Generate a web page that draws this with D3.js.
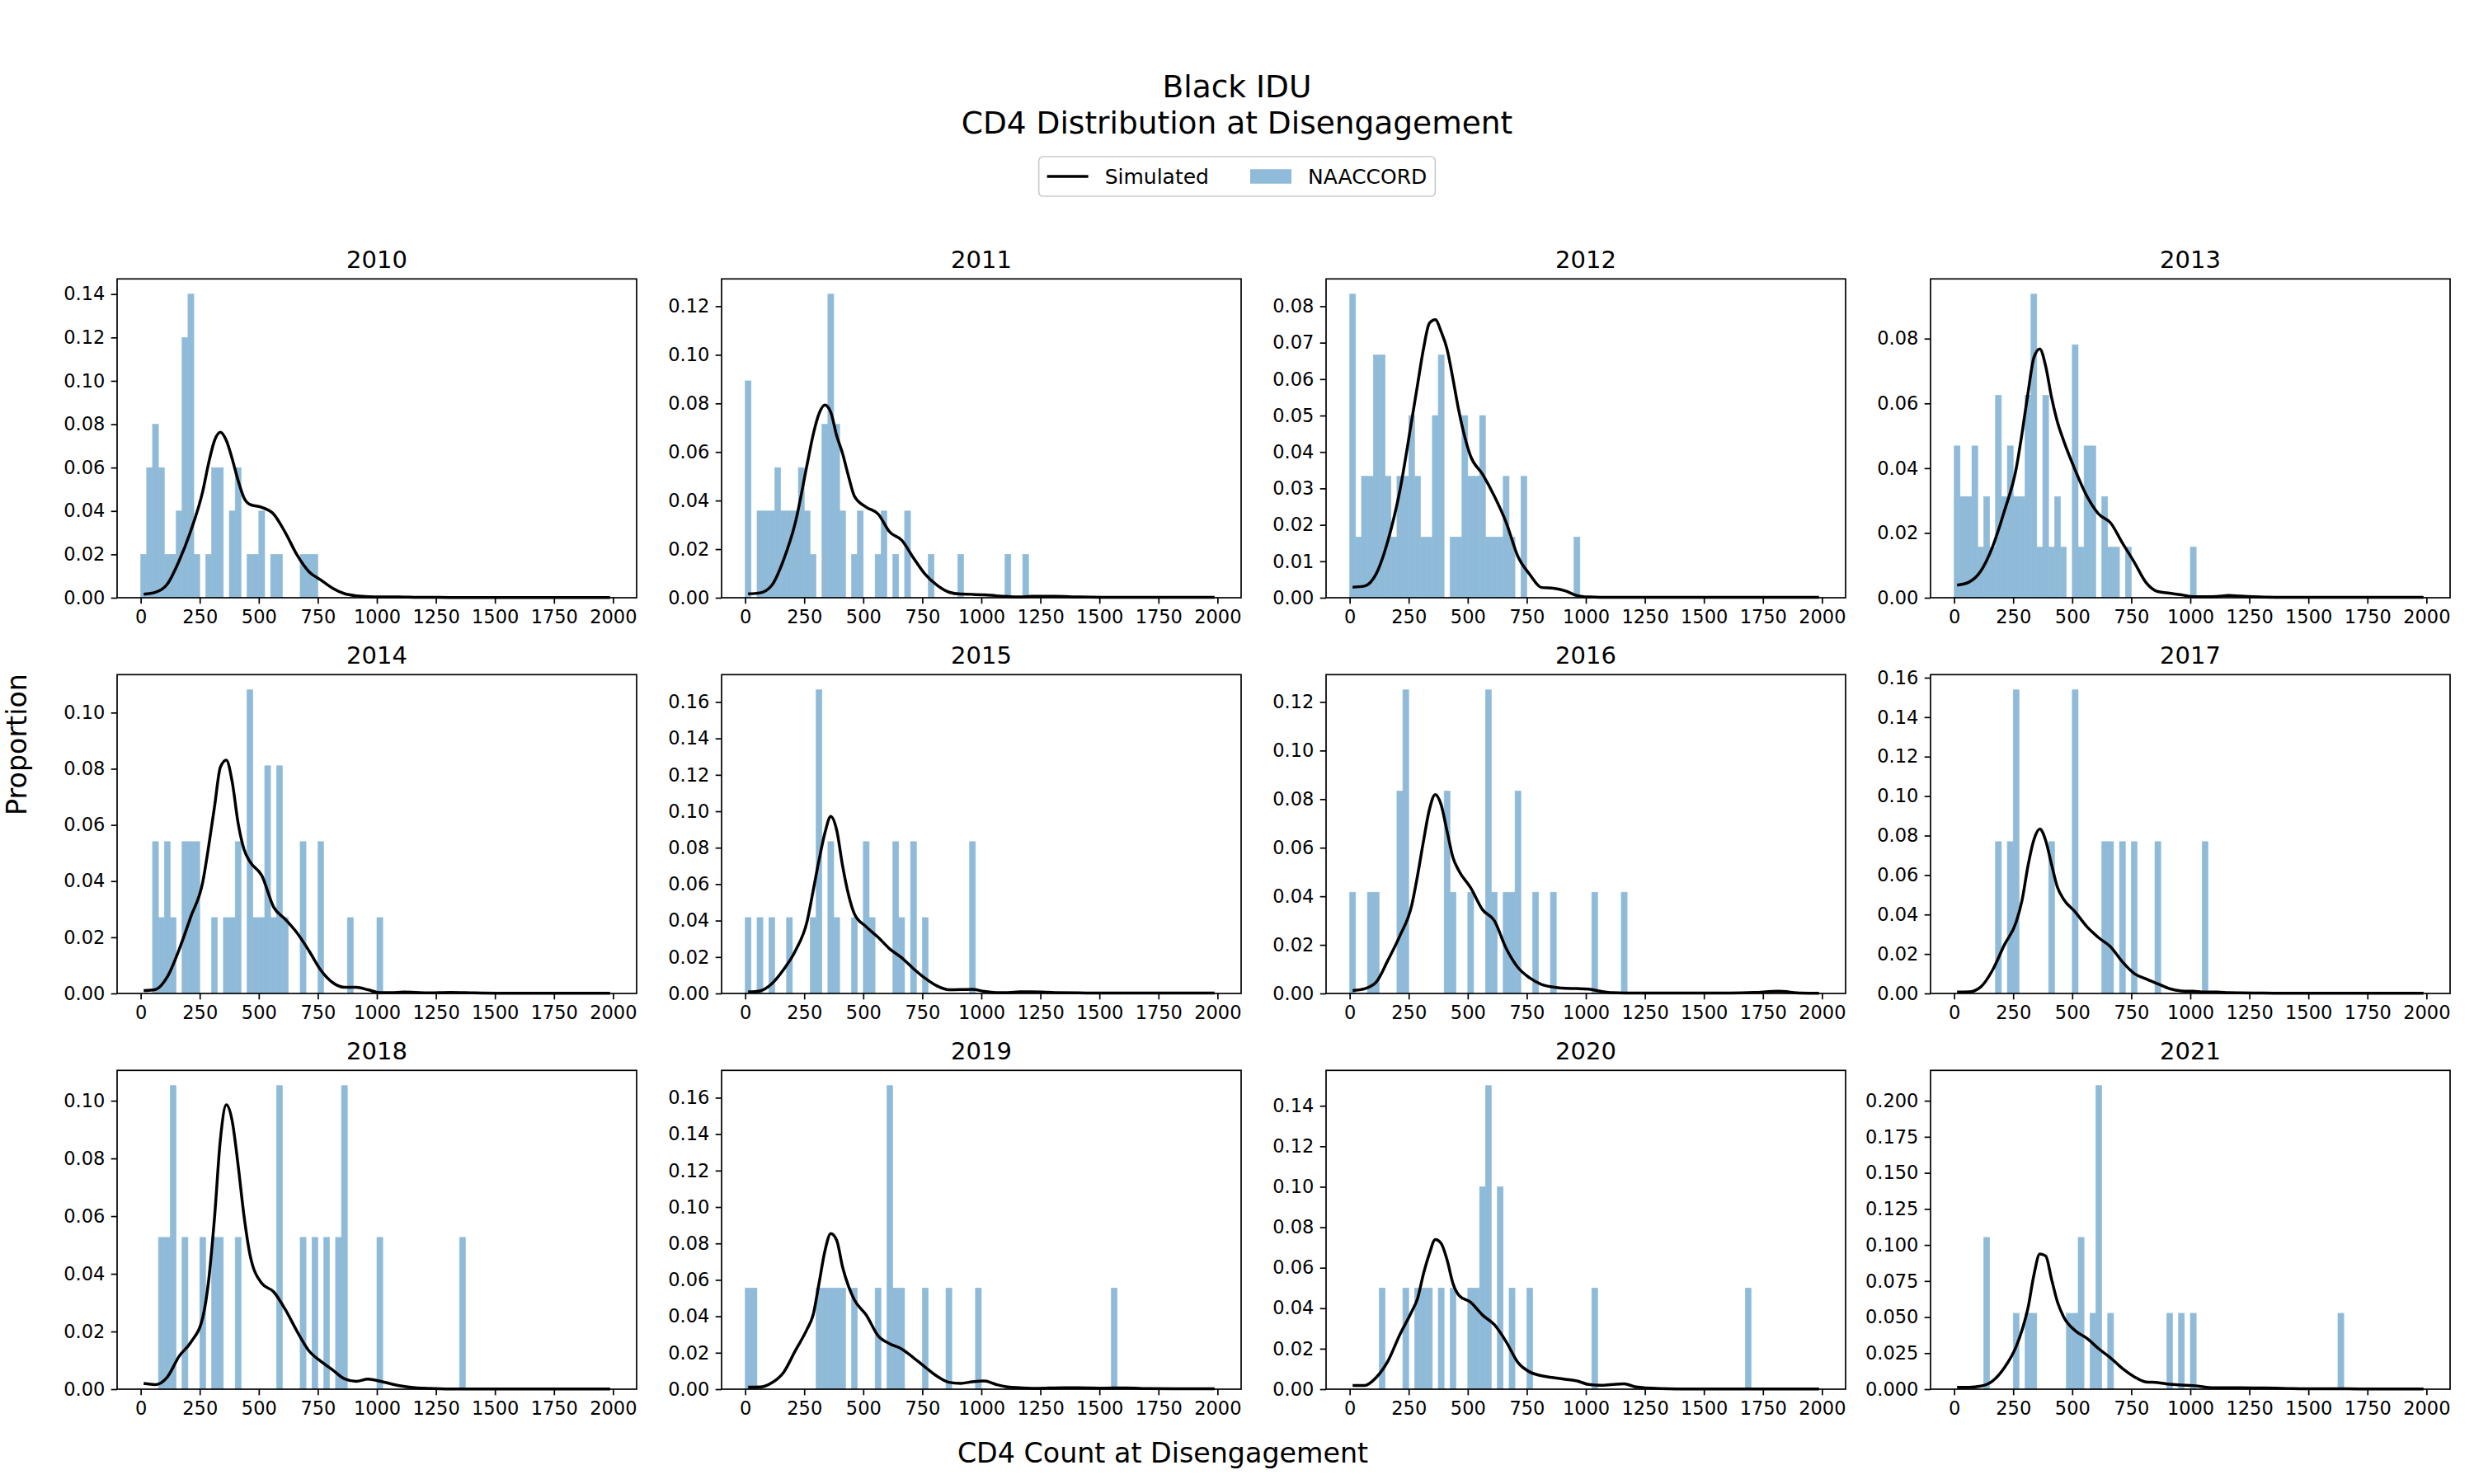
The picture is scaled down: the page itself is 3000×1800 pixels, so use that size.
<!DOCTYPE html>
<html>
<head>
<meta charset="utf-8">
<script src="https://cdnjs.cloudflare.com/ajax/libs/d3/7.8.5/d3.min.js"></script>
<style>
  body { margin: 0; background: #fff; }
  svg { font-family: "DejaVu Sans", sans-serif; }
</style>
</head>
<body>
<svg id="chart" width="3000" height="1800"></svg>
<script>
// NAACCORD histogram: [bin left edge, count], bins are 25 wide
var years = [2010, 2011, 2012, 2013, 2014, 2015, 2016, 2017, 2018, 2019, 2020, 2021];
var sampleSizes = [50, 56, 60, 64, 37, 24, 24, 13, 19, 18, 20, 19];
var binWidth = 25;

var naaccord2010 = [[0,1],[25,3],[50,4],[75,3],[100,1],[125,1],[150,2],[175,6],[200,7],[225,1],[275,1],[300,3],[325,3],[375,2],[400,3],[450,1],[475,1],[500,2],[550,1],[575,1],[675,1],[700,1],[725,1]];
var naaccord2011 = [[0,5],[50,2],[75,2],[100,2],[125,3],[150,2],[175,2],[200,2],[225,3],[250,2],[275,1],[325,4],[350,7],[375,4],[400,2],[450,1],[475,2],[550,1],[575,2],[625,1],[675,2],[775,1],[900,1],[1100,1],[1175,1]];
var naaccord2012 = [[0,5],[25,1],[50,2],[75,2],[100,4],[125,4],[150,2],[175,1],[200,2],[225,2],[250,3],[275,2],[300,1],[325,1],[350,3],[375,4],[425,1],[450,1],[475,3],[500,2],[525,2],[550,3],[575,1],[600,1],[625,1],[650,2],[675,1],[725,2],[950,1]];
var naaccord2013 = [[0,3],[25,2],[50,2],[75,3],[100,1],[125,2],[150,1],[175,4],[200,2],[225,3],[250,2],[275,2],[300,4],[325,6],[350,1],[375,4],[400,1],[425,2],[450,1],[500,5],[525,1],[550,3],[575,3],[625,2],[650,1],[675,1],[725,1],[1000,1]];
var naaccord2014 = [[50,2],[75,1],[100,2],[125,1],[175,2],[200,2],[225,2],[300,1],[350,1],[375,1],[400,2],[450,4],[475,1],[500,1],[525,3],[550,1],[575,3],[600,1],[675,2],[750,2],[875,1],[1000,1]];
var naaccord2015 = [[0,1],[50,1],[100,1],[175,1],[275,1],[300,4],[350,2],[375,1],[450,1],[500,2],[525,1],[625,2],[650,1],[700,2],[750,1],[950,2]];
var naaccord2016 = [[0,1],[75,1],[100,1],[200,2],[225,3],[400,2],[425,1],[500,1],[575,3],[600,1],[650,1],[675,1],[700,2],[775,1],[850,1],[1025,1],[1150,1]];
var naaccord2017 = [[175,1],[225,1],[250,2],[400,1],[500,2],[625,1],[650,1],[700,1],[750,1],[850,1],[1050,1]];
var naaccord2018 = [[75,1],[100,1],[125,2],[175,1],[250,1],[300,1],[325,1],[400,1],[575,2],[675,1],[725,1],[775,1],[825,1],[850,2],[1000,1],[1350,1]];
var naaccord2019 = [[0,1],[25,1],[300,1],[325,1],[350,1],[375,1],[400,1],[450,1],[550,1],[600,3],[625,1],[650,1],[750,1],[850,1],[975,1],[1550,1]];
var naaccord2020 = [[125,1],[225,1],[275,1],[300,1],[325,1],[375,1],[425,1],[500,1],[525,1],[550,2],[575,3],[625,2],[675,1],[750,1],[1025,1],[1675,1]];
var naaccord2021 = [[125,2],[250,1],[300,1],[325,1],[475,1],[500,1],[525,2],[575,1],[600,4],[650,1],[900,1],[950,1],[1000,1],[1625,1]];

// Simulated curve, read at these CD4 values
var simGrid = [12.5, 62.5, 112.5, 162.5, 212.5, 262.5, 287.5, 312.5, 337.5, 362.5, 387.5, 412.5, 437.5, 462.5,
               512.5, 562.5, 612.5, 662.5, 712.5, 762.5, 812.5, 862.5, 912.5, 962.5, 1012.5, 1062.5, 1112.5, 1162.5, 1212.5,
               1312.5, 1412.5, 1512.5, 1612.5, 1712.5, 1812.5, 1912.5, 1987.5];

var sim2010 = [0.0016, 0.0025, 0.0063, 0.017, 0.031, 0.049, 0.062, 0.0725, 0.0763, 0.0725, 0.064, 0.054, 0.046, 0.043,
               0.0417, 0.0386, 0.030, 0.0196, 0.012, 0.0082, 0.0044, 0.0019, 0.0009, 0.0005, 0.0004, 0.0004, 0.0003, 0.0002, 0.0002,
               0.0001, 0.0001, 0.0001, 0.0001, 0.0001, 0.0001, 0.0001, 0.0001];
var sim2011 = [0.0016, 0.002, 0.0051, 0.0156, 0.031, 0.055, 0.067, 0.0757, 0.0793, 0.0763, 0.0667, 0.0593, 0.050, 0.0418,
               0.0373, 0.0345, 0.027, 0.0237, 0.0164, 0.0096, 0.0051, 0.0023, 0.0015, 0.0014, 0.0012, 0.0008, 0.0005, 0.0003, 0.0006,
               0.0006, 0.0003, 0.0002, 0.0002, 0.0002, 0.0002, 0.0002, 0.0002];
var sim2012 = [0.0029, 0.0032, 0.0066, 0.0158, 0.0294, 0.0486, 0.0585, 0.0683, 0.0753, 0.0763, 0.073, 0.0682, 0.060, 0.0512,
               0.0388, 0.0339, 0.0279, 0.0207, 0.0113, 0.0064, 0.0028, 0.0026, 0.0019, 0.0006, 0.0002, 0.0001, 0.0001, 0.0001, 0.0001,
               0.0001, 0.0001, 0.0001, 0.0001, 0.0001, 0.0001, 0.0001, 0.0001];
var sim2013 = [0.0039, 0.0048, 0.0082, 0.0157, 0.0267, 0.0398, 0.0508, 0.0631, 0.0741, 0.0768, 0.0715, 0.0618, 0.0542, 0.0487,
               0.0394, 0.0313, 0.0258, 0.0231, 0.0169, 0.011, 0.0047, 0.0019, 0.0014, 0.0009, 0.0003, 0.0003, 0.0004, 0.0007, 0.0005,
               0.0002, 0.0001, 0.0001, 0.0001, 0.0001, 0.0001, 0.0001, 0.0001];
var sim2014 = [0.001, 0.0014, 0.0059, 0.0156, 0.0274, 0.0396, 0.0523, 0.0665, 0.0806, 0.0831, 0.0753, 0.0606, 0.0513, 0.0469,
               0.042, 0.0308, 0.0264, 0.0215, 0.0152, 0.0083, 0.0039, 0.0022, 0.0022, 0.0013, 0.0003, 0.0003, 0.0005, 0.0004, 0.0002,
               0.0004, 0.0002, 0.0001, 0.0001, 0.0001, 0.0001, 0.0001, 0.0001];
var sim2015 = [0.0009, 0.0014, 0.0053, 0.0131, 0.0234, 0.0398, 0.0562, 0.0731, 0.0881, 0.0972, 0.0896, 0.070, 0.0542, 0.0437,
               0.0366, 0.0309, 0.0244, 0.0196, 0.0136, 0.0083, 0.0041, 0.002, 0.0021, 0.0023, 0.0011, 0.0005, 0.0005, 0.0009, 0.0009,
               0.0005, 0.0003, 0.0002, 0.0002, 0.0002, 0.0002, 0.0002, 0.0002];
var sim2016 = [0.0012, 0.0019, 0.0047, 0.0138, 0.0237, 0.0362, 0.0486, 0.0627, 0.0757, 0.0819, 0.0776, 0.0667, 0.0559, 0.0505,
               0.0435, 0.0345, 0.030, 0.0186, 0.0107, 0.0064, 0.0037, 0.0026, 0.0021, 0.002, 0.0018, 0.0009, 0.0003, 0.0002, 0.0002,
               0.0002, 0.0002, 0.0002, 0.0002, 0.0004, 0.0009, 0.0002, 0.0001];
var sim2017 = [0.0007, 0.0008, 0.0033, 0.0118, 0.0246, 0.0361, 0.0472, 0.0646, 0.0778, 0.0833, 0.0775, 0.0653, 0.0538, 0.0479,
               0.0413, 0.0338, 0.0282, 0.0236, 0.016, 0.0101, 0.0074, 0.0049, 0.0024, 0.0013, 0.0011, 0.0007, 0.0007, 0.0004, 0.0003,
               0.0002, 0.0001, 0.0001, 0.0001, 0.0001, 0.0001, 0.0001, 0.0001];
var sim2018 = [0.002, 0.0016, 0.0042, 0.0114, 0.0163, 0.0248, 0.0376, 0.0595, 0.0867, 0.0986, 0.0929, 0.0776, 0.060, 0.0467,
               0.0367, 0.0338, 0.0276, 0.020, 0.0133, 0.0097, 0.0067, 0.0036, 0.0027, 0.0035, 0.0028, 0.0018, 0.001, 0.0005, 0.0003,
               0.0001, 0.0001, 0.0001, 0.0001, 0.0001, 0.0001, 0.0001, 0.0001];
var sim2019 = [0.0011, 0.0012, 0.0035, 0.0092, 0.0212, 0.0331, 0.0407, 0.058, 0.0758, 0.0854, 0.0817, 0.067, 0.0565, 0.049,
               0.0407, 0.0294, 0.0249, 0.0221, 0.0173, 0.0121, 0.0071, 0.0038, 0.0032, 0.0041, 0.0045, 0.0026, 0.0012, 0.0008, 0.0005,
               0.0007, 0.0008, 0.0006, 0.0007, 0.0003, 0.0002, 0.0002, 0.0002];
var sim2020 = [0.0018, 0.0018, 0.0058, 0.014, 0.027, 0.0383, 0.0448, 0.057, 0.0669, 0.0739, 0.072, 0.0638, 0.0522, 0.0464,
               0.0429, 0.0366, 0.0319, 0.0235, 0.0132, 0.0085, 0.0066, 0.0057, 0.0049, 0.0041, 0.0023, 0.0019, 0.0023, 0.0026, 0.0011,
               0.0003, 0.0001, 0.0001, 0.0001, 0.0001, 0.0001, 0.0001, 0.0001];
var sim2021 = [0.0013, 0.0013, 0.0021, 0.0057, 0.0149, 0.0295, 0.041, 0.0562, 0.079, 0.0937, 0.0924, 0.0762, 0.0604, 0.0505,
               0.0406, 0.0352, 0.028, 0.0217, 0.0143, 0.0086, 0.005, 0.0046, 0.0034, 0.0029, 0.0025, 0.0015, 0.001, 0.001, 0.001,
               0.0008, 0.0005, 0.0003, 0.0003, 0.0002, 0.0001, 0.0001, 0.0001];

var xTicks = [0, 250, 500, 750, 1000, 1250, 1500, 1750, 2000];
var yTickSteps = [0.02, 0.02, 0.01, 0.02, 0.02, 0.02, 0.02, 0.02, 0.02, 0.02, 0.02, 0.025];

var naaccord = [naaccord2010, naaccord2011, naaccord2012, naaccord2013, naaccord2014, naaccord2015,
                naaccord2016, naaccord2017, naaccord2018, naaccord2019, naaccord2020, naaccord2021];
var simulated = [sim2010, sim2011, sim2012, sim2013, sim2014, sim2015,
                 sim2016, sim2017, sim2018, sim2019, sim2020, sim2021];

var barColor = '#8fbbd9';
var tickFont = 22.5;

var svg = d3.select('#chart');

var panelW = 630, panelH = 386.7;

years.forEach(function (year, i) {
  var col = i % 4, row = Math.floor(i / 4);
  var left = 142 + col * 733,
      top = 338.3 + row * 480;

  var g = svg.append('g').attr('transform', 'translate(' + left + ',' + top + ')');

  var bars = naaccord[i].map(function (b) {
    return { x0: b[0], p: b[1] / sampleSizes[i] };
  });
  var line = simGrid.map(function (cd4, k) { return [cd4, simulated[i][k]]; });

  var yMax = 1.05 * Math.max(d3.max(bars, function (d) { return d.p; }), d3.max(simulated[i]));

  var x = d3.scaleLinear().domain([-100, 2100]).range([0, panelW]);
  var y = d3.scaleLinear().domain([0, yMax]).range([panelH, 0]);

  // a thin stroke of the same colour hides seams between touching bars
  g.selectAll('rect.bar')
    .data(bars)
    .enter()
    .append('rect')
    .attr('class', 'bar')
    .attr('x', function (d) { return x(d.x0); })
    .attr('width', function (d) { return x(d.x0 + binWidth) - x(d.x0); })
    .attr('y', function (d) { return y(d.p); })
    .attr('height', function (d) { return panelH - y(d.p); })
    .attr('fill', barColor)
    .attr('stroke', barColor)
    .attr('stroke-width', 0.6);

  g.append('path')
    .datum(line)
    .attr('fill', 'none')
    .attr('stroke', '#000')
    .attr('stroke-width', 3.5)
    .attr('stroke-linejoin', 'round')
    .attr('d', d3.line()
      .x(function (d) { return x(d[0]); })
      .y(function (d) { return y(d[1]); })
      .curve(d3.curveMonotoneX));

  // ticks
  var step = yTickSteps[i];
  var nTicks = Math.floor(yMax / step + 1e-6);
  var yTicks = d3.range(0, nTicks + 1).map(function (k) { return k * step; });
  var fmt = d3.format(step === 0.025 ? '.3f' : '.2f');

  var yAxis = g.append('g')
    .call(d3.axisLeft(y).tickValues(yTicks).tickFormat(fmt).tickSize(7.3).tickPadding(7.3).tickSizeOuter(0));
  var xAxis = g.append('g')
    .attr('transform', 'translate(0,' + panelH + ')')
    .call(d3.axisBottom(x).tickValues(xTicks).tickFormat(d3.format('d')).tickSize(7.3).tickPadding(7.3).tickSizeOuter(0));

  [yAxis, xAxis].forEach(function (a) {
    a.select('.domain').remove();
    a.selectAll('line').attr('stroke', '#000').attr('stroke-width', 1.7);
    a.selectAll('text')
      .attr('font-family', '"DejaVu Sans", sans-serif')
      .attr('font-size', tickFont)
      .attr('fill', '#000');
  });

  g.append('rect')
    .attr('width', panelW)
    .attr('height', panelH)
    .attr('fill', 'none')
    .attr('stroke', '#000')
    .attr('stroke-width', 1.7);

  g.append('text')
    .attr('x', panelW / 2)
    .attr('y', -13)
    .attr('text-anchor', 'middle')
    .attr('font-size', 29)
    .text(year);
});

// figure titles
svg.append('text')
  .attr('x', 1500).attr('y', 105)
  .attr('text-anchor', 'middle').attr('dominant-baseline', 'central')
  .attr('font-size', 37.5)
  .text('Black IDU');
svg.append('text')
  .attr('x', 1500).attr('y', 149)
  .attr('text-anchor', 'middle').attr('dominant-baseline', 'central')
  .attr('font-size', 37.5)
  .text('CD4 Distribution at Disengagement');

svg.append('text')
  .attr('x', 1410).attr('y', 1762)
  .attr('text-anchor', 'middle').attr('dominant-baseline', 'central')
  .attr('font-size', 33.3)
  .text('CD4 Count at Disengagement');
svg.append('text')
  .attr('transform', 'translate(20,903) rotate(-90)')
  .attr('text-anchor', 'middle').attr('dominant-baseline', 'central')
  .attr('font-size', 33.3)
  .text('Proportion');

// legend
var legendFont = 25;
var legend = svg.append('g');
var frame = legend.append('rect')
  .attr('fill', '#fff').attr('fill-opacity', 0.8)
  .attr('stroke', '#cccccc').attr('stroke-width', 1.7)
  .attr('rx', 5).attr('ry', 5);

var legendItems = [{ label: 'Simulated', kind: 'line' }, { label: 'NAACCORD', kind: 'patch' }];
var handleLen = 2 * legendFont, handleGap = 0.8 * legendFont, colGap = 2 * legendFont, pad = 0.4 * legendFont;
var cy = 214;
var widths = [];
var itemGroups = legendItems.map(function (item) {
  var ig = legend.append('g');
  if (item.kind === 'line') {
    ig.append('line').attr('x1', 0).attr('x2', handleLen).attr('y1', cy).attr('y2', cy)
      .attr('stroke', '#000').attr('stroke-width', 3.5);
  } else {
    ig.append('rect').attr('x', 0).attr('y', cy - 0.35 * legendFont)
      .attr('width', handleLen).attr('height', 0.7 * legendFont).attr('fill', barColor);
  }
  var t = ig.append('text').attr('x', handleLen + handleGap).attr('y', cy)
    .attr('dominant-baseline', 'central').attr('font-size', legendFont).text(item.label);
  widths.push(handleLen + handleGap + t.node().getComputedTextLength());
  return ig;
});
var contentW = d3.sum(widths) + colGap * (widths.length - 1);
var boxW = contentW + 2 * pad;
var boxLeft = 1500 - boxW / 2;
var offset = boxLeft + pad;
itemGroups.forEach(function (ig, k) {
  ig.attr('transform', 'translate(' + offset + ',0)');
  offset += widths[k] + colGap;
});
frame.attr('x', boxLeft).attr('y', 190).attr('width', boxW).attr('height', 48);
</script>
</body>
</html>
